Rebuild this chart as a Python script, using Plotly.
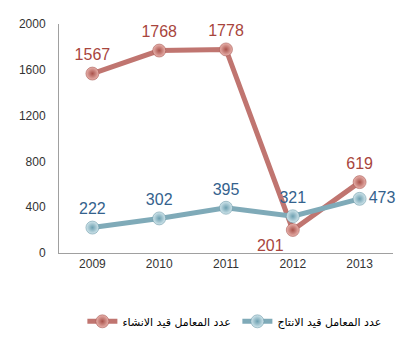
import plotly.graph_objects as go

years = ["2009", "2010", "2011", "2012", "2013"]
construction = [1567, 1768, 1778, 201, 619]
production = [222, 302, 395, 321, 473]
name_construction = "عدد المعامل قيد الانشاء"
name_production = "عدد المعامل قيد الانتاج"
y_ticks = [0, 400, 800, 1200, 1600, 2000]

red_pos = ["top center", "top center", "top center", "bottom left", "top center"]
blue_pos = ["top center", "top center", "top center", "top center", "middle right"]

fig = go.Figure()
fig.add_trace(go.Scatter(
    x=years, y=construction, name=name_construction,
    mode="lines+markers+text",
    text=[str(v) for v in construction], textposition=red_pos,
    textfont=dict(family="Liberation Sans, Arial", size=16, color="#A8453D"),
    line=dict(color="#C07570", width=5),
    marker=dict(size=13, color="#E9B3AD", gradient=dict(type="radial", color="#A9524B"),
                line=dict(color="#9C4B45", width=0.5)),
    cliponaxis=False,
))
fig.add_trace(go.Scatter(
    x=years, y=production, name=name_production,
    mode="lines+markers+text",
    text=[str(v) for v in production], textposition=blue_pos,
    textfont=dict(family="Liberation Sans, Arial", size=16, color="#34628D"),
    line=dict(color="#7FAAB8", width=5),
    marker=dict(size=13, color="#D2E6EC", gradient=dict(type="radial", color="#6C9FB0"),
                line=dict(color="#5F8E9E", width=0.5)),
    cliponaxis=False,
))

fig.update_layout(
    width=406, height=350,
    margin=dict(l=59, r=13, t=24, b=97, autoexpand=False),
    plot_bgcolor="white", paper_bgcolor="white",
    font=dict(family="Liberation Sans, Arial", size=12, color="#333333"),
    showlegend=True,
    legend=dict(orientation="h", x=0.07, xanchor="left", y=-0.235, yanchor="top",
                font=dict(family="DejaVu Sans", size=11, color="#000000"),
                entrywidth=110, entrywidthmode="pixels", traceorder="normal"),
    xaxis=dict(type="category", range=[-0.5, 4.5], showgrid=False, showline=True,
               linecolor="#A0A0A0", linewidth=1, ticks="",
               tickfont=dict(size=12, color="#333333")),
    yaxis=dict(range=[0, 2000], tickvals=y_ticks, showgrid=False, showline=True,
               linecolor="#A0A0A0", linewidth=1, ticks="", zeroline=False,
               ticklabelstandoff=10, tickfont=dict(size=12, color="#333333")),
)

fig.write_html("out.html")
